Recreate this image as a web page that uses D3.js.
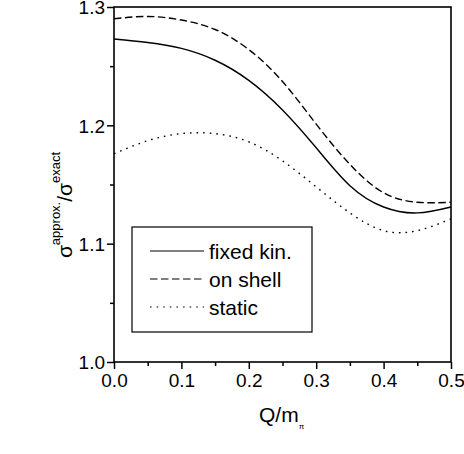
<!DOCTYPE html>
<html>
<head>
<meta charset="utf-8">
<script src="https://cdn.jsdelivr.net/npm/d3@7"></script>
<style>
  body { margin: 0; background: #fff; }
  text { font-family: "Liberation Sans", Arial, sans-serif; fill: #000; }
</style>
</head>
<body>
<div id="chart"></div>
<script>
// Q/m_pi values and the three ratio curves
const qValues = [0.00, 0.05, 0.10, 0.15, 0.20, 0.25, 0.30, 0.35, 0.40, 0.45, 0.50];
const fixedKin = [1.273, 1.270, 1.265, 1.255, 1.238, 1.213, 1.181, 1.149, 1.131, 1.126, 1.131];
const onShell  = [1.290, 1.292, 1.289, 1.281, 1.264, 1.237, 1.201, 1.167, 1.143, 1.135, 1.135];
const staticV  = [1.176, 1.187, 1.193, 1.193, 1.186, 1.170, 1.148, 1.126, 1.111, 1.111, 1.121];

const seriesNames = ["fixed kin.", "on shell", "static"];
const xTicks = [0.0, 0.1, 0.2, 0.3, 0.4, 0.5];
const yTicks = [1.0, 1.1, 1.2, 1.3];

const series = [
    { name: seriesNames[0], values: fixedKin, dash: null },
    { name: seriesNames[1], values: onShell, dash: "7.5,3.5" },
    { name: seriesNames[2], values: staticV, dash: "1.6,5" }
];

const margin = { top: 7, right: 13, bottom: 92, left: 114 };
const W = 464, H = 454;
const width = W - margin.left - margin.right;
const height = H - margin.top - margin.bottom;

const svg = d3.select("#chart")
    .append("svg")
    .attr("width", W)
    .attr("height", H);

const g = svg.append("g")
    .attr("transform", `translate(${margin.left}, ${margin.top})`);

const x = d3.scaleLinear().domain([0, 0.5]).range([0, width]);
const y = d3.scaleLinear().domain([1.0, 1.3]).range([height, 0]);

// Minor ticks
g.append("g")
    .attr("transform", `translate(0, ${height})`)
    .call(d3.axisBottom(x).tickValues([0.05, 0.15, 0.25, 0.35, 0.45]).tickSize(4).tickFormat(""))
    .call(a => a.select(".domain").remove())
    .call(a => a.selectAll("line").attr("stroke-width", 1.5));
g.append("g")
    .call(d3.axisLeft(y).tickValues([1.05, 1.15, 1.25]).tickSize(4).tickFormat(""))
    .call(a => a.select(".domain").remove())
    .call(a => a.selectAll("line").attr("stroke-width", 1.5));

// Major ticks
const xAxis = g.append("g")
    .attr("transform", `translate(0, ${height})`)
    .call(d3.axisBottom(x).tickValues(xTicks).tickSize(7).tickPadding(5).tickFormat(d3.format(".1f")));
const yAxis = g.append("g")
    .call(d3.axisLeft(y).tickValues(yTicks).tickSize(7).tickPadding(2).tickFormat(d3.format(".1f")));

[xAxis, yAxis].forEach(a => {
    a.select(".domain").remove();
    a.selectAll("line").attr("stroke-width", 1.5);
    a.selectAll("text")
        .style("font-size", "19px")
        .style("font-family", "'Liberation Sans', Arial, sans-serif");
});
yAxis.selectAll("text").attr("dy", "0.36em");

// Frame
g.append("rect")
    .attr("x", 0).attr("y", 0)
    .attr("width", width).attr("height", height)
    .attr("fill", "none")
    .attr("stroke", "#000")
    .attr("stroke-width", 1.6);

// Curves
const line = d3.line()
    .x((d, i) => x(qValues[i]))
    .y(d => y(d))
    .curve(d3.curveNatural);

g.selectAll(".curve")
    .data(series)
    .enter()
    .append("path")
    .attr("class", "curve")
    .attr("d", d => line(d.values))
    .attr("fill", "none")
    .attr("stroke", "#000")
    .attr("stroke-width", 1.4)
    .attr("stroke-dasharray", d => d.dash);

// Legend
const legend = svg.append("g").attr("transform", "translate(132, 227)");
legend.append("rect")
    .attr("width", 180).attr("height", 105)
    .attr("fill", "#fff")
    .attr("stroke", "#000")
    .attr("stroke-width", 1.2);

const items = legend.selectAll(".item")
    .data(series)
    .enter()
    .append("g")
    .attr("transform", (d, i) => `translate(0, ${24 + i * 28})`);
items.append("line")
    .attr("x1", 18).attr("x2", 72)
    .attr("stroke", "#000")
    .attr("stroke-width", 1.2)
    .attr("stroke-dasharray", d => d.dash);
items.append("text")
    .attr("x", 77)
    .attr("dy", "0.36em")
    .style("font-size", "21px")
    .text(d => d.name);

// X-axis title
const xt = svg.append("text")
    .attr("x", 259)
    .attr("y", 422)
    .style("font-size", "21px");
xt.append("tspan").text("Q/m");
xt.append("tspan").attr("dy", 7).style("font-size", "8px").text("π");

// Y-axis title
const yt = svg.append("text")
    .attr("transform", "translate(72, 205) rotate(-90)")
    .attr("text-anchor", "middle")
    .style("font-size", "21px");
yt.append("tspan").text("σ");
yt.append("tspan").attr("dy", -12).style("font-size", "13px").text("approx.");
yt.append("tspan").attr("dy", 12).text("/σ");
yt.append("tspan").attr("dy", -12).style("font-size", "13px").text("exact");
</script>
</body>
</html>
